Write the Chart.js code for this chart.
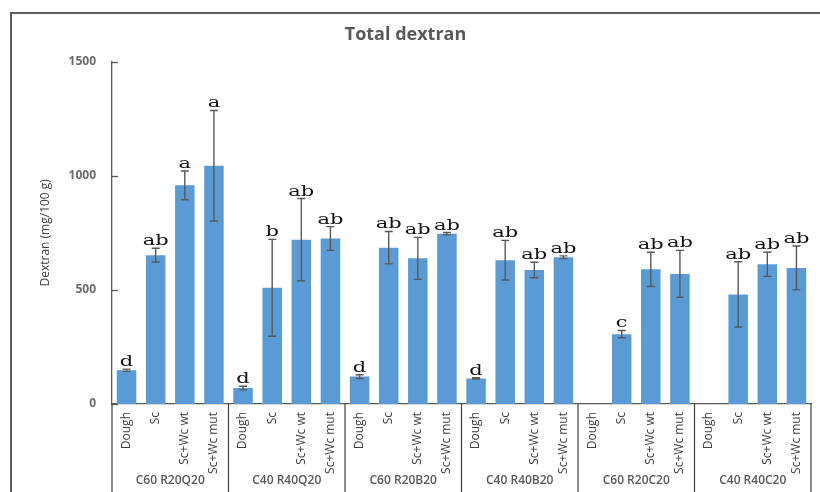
<!DOCTYPE html>
<html>
<head>
<meta charset="utf-8">
<title>Total dextran</title>
<script src="https://cdn.jsdelivr.net/npm/chart.js@4.4.1/dist/chart.umd.min.js"></script>
<style>
  html, body { margin: 0; padding: 0; background: #ffffff; }
  #wrap { width: 820px; height: 492px; }
</style>
</head>
<body>
<div id="wrap"><canvas id="chart" width="820" height="492"></canvas></div>
<script>
// Dough formulations (second-level axis)
const groups = ["C60 R20Q20", "C40 R40Q20", "C60 R20B20", "C40 R40B20", "C60 R20C20", "C40 R40C20"];
// Fermentation treatments within each formulation
const treatments = ["Dough", "Sc", "Sc+Wc wt", "Sc+Wc mut"];
// Mean total dextran, mg/100 g (4 treatments per formulation)
const means = [
  148, 652, 958, 1044,
  70, 509, 720, 725,
  120, 685, 638, 746,
  112, 630, 587, 643,
  0, 306, 590, 570,
  0, 480, 612, 596
];
// Standard deviations
const errors = [
  5, 30, 63, 242,
  8, 212, 180, 52,
  8, 71, 92, 5,
  3, 87, 34, 6,
  0, 16, 75, 103,
  0, 143, 53, 96
];
// Significance letters
const letters = [
  "d", "ab", "a", "a",
  "d", "b", "ab", "ab",
  "d", "ab", "ab", "ab",
  "d", "ab", "ab", "ab",
  "", "c", "ab", "ab",
  "", "ab", "ab", "ab"
];
const yTicks = [0, 500, 1000, 1500];

const labels = [];
groups.forEach(() => treatments.forEach(t => labels.push(t)));

const AXIS = '#595959';
const NARROW = '"Liberation Sans Narrow", "Open Sans", sans-serif';

// Frame, inward y ticks, group dividers, group names, error bars and letters
const decorations = {
  id: 'decorations',
  beforeDraw(chart) {
    const ctx = chart.ctx;
    ctx.save();
    ctx.fillStyle = '#ffffff';
    ctx.fillRect(0, 0, chart.width, chart.height);
    ctx.strokeStyle = '#5f5f5f';
    ctx.lineWidth = 2;
    ctx.beginPath();
    ctx.moveTo(11, chart.height);
    ctx.lineTo(11, 13);
    ctx.lineTo(chart.width, 13);
    ctx.stroke();
    ctx.restore();
  },
  afterDatasetsDraw(chart) {
    const ctx = chart.ctx;
    const x = chart.scales.x;
    const y = chart.scales.y;
    const area = chart.chartArea;
    ctx.save();

    // error bars
    ctx.strokeStyle = '#595959';
    ctx.lineWidth = 1.4;
    means.forEach((m, i) => {
      const e = errors[i];
      if (!e) return;
      const cx = x.getPixelForValue(i);
      const yt = y.getPixelForValue(m + e);
      const yb = y.getPixelForValue(m - e);
      ctx.beginPath();
      ctx.moveTo(cx, yt); ctx.lineTo(cx, yb);
      ctx.moveTo(cx - 4, yt); ctx.lineTo(cx + 4, yt);
      ctx.moveTo(cx - 4, yb); ctx.lineTo(cx + 4, yb);
      ctx.stroke();
    });

    // significance letters
    ctx.fillStyle = '#111111';
    ctx.font = '15px "DejaVu Serif", serif';
    ctx.textAlign = 'center';
    ctx.textBaseline = 'alphabetic';
    letters.forEach((l, i) => {
      if (!l) return;
      const cx = x.getPixelForValue(i);
      const yt = y.getPixelForValue(means[i] + errors[i]);
      ctx.save();
      ctx.translate(cx, yt - 3);
      ctx.scale(1.4, 1);
      ctx.fillText(l, 0, 0);
      ctx.restore();
    });

    // inward tick marks on the value axis
    ctx.strokeStyle = AXIS;
    ctx.lineWidth = 1.3;
    yTicks.forEach(v => {
      const py = Math.round(y.getPixelForValue(v)) + 0.5;
      ctx.beginPath();
      ctx.moveTo(area.left, py);
      ctx.lineTo(area.left + 6, py);
      ctx.stroke();
    });

    // dividers between formulations
    const n = treatments.length;
    ctx.strokeStyle = '#404040';
    ctx.lineWidth = 1.2;
    const bounds = [];
    for (let g = 0; g <= groups.length; g++) {
      let px;
      if (g === 0) px = area.left;
      else if (g === groups.length) px = area.right;
      else px = (x.getPixelForValue(g * n - 1) + x.getPixelForValue(g * n)) / 2;
      bounds.push(px);
      ctx.beginPath();
      ctx.moveTo(px, area.bottom);
      ctx.lineTo(px, chart.height);
      ctx.stroke();
    }

    // formulation names
    ctx.fillStyle = '#595959';
    ctx.font = '600 12px "Open Sans", sans-serif';
    ctx.textAlign = 'center';
    ctx.textBaseline = 'middle';
    groups.forEach((gname, g) => {
      ctx.fillText(gname, (bounds[g] + bounds[g + 1]) / 2, 481);
    });
    ctx.restore();
  }
};

new Chart(document.getElementById('chart'), {
  type: 'bar',
  data: {
    labels: labels,
    datasets: [{
      data: means,
      backgroundColor: '#5B9BD5',
      borderWidth: 0,
      barPercentage: 0.67,
      categoryPercentage: 1
    }]
  },
  options: {
    responsive: false,
    animation: false,
    layout: { padding: { left: 0, right: 9, top: 0, bottom: 0 } },
    plugins: {
      legend: { display: false },
      tooltip: { enabled: false },
      title: {
        display: true,
        text: 'Total dextran',
        color: '#595959',
        font: { family: '"Open Sans", sans-serif', size: 18, weight: 'bold' },
        padding: { top: 24, bottom: 16 }
      }
    },
    scales: {
      x: {
        grid: { display: false, drawTicks: false },
        border: { display: true, color: AXIS, width: 1.3 },
        ticks: {
          autoSkip: false,
          maxRotation: 90,
          minRotation: 90,
          padding: 8,
          color: '#404040',
          font: { family: NARROW, size: 12 }
        },
        afterFit(s) { s.height = 88; }
      },
      y: {
        min: 0,
        max: 1500,
        afterBuildTicks(s) { s.ticks = yTicks.map(v => ({ value: v })); },
        grid: { display: false, drawTicks: false },
        border: { display: true, color: AXIS, width: 1.3 },
        ticks: {
          padding: 16,
          color: '#6b6b6b',
          font: { family: '"Open Sans", sans-serif', size: 12, weight: 'bold' },
          callback: v => String(v)
        },
        title: {
          display: true,
          text: 'Dextran (mg/100 g)',
          color: '#404040',
          font: { family: NARROW, size: 12 },
          padding: { top: 38, bottom: 0 }
        },
        afterFit(s) { s.width = 112; }
      }
    }
  },
  plugins: [decorations]
});
</script>
</body>
</html>
